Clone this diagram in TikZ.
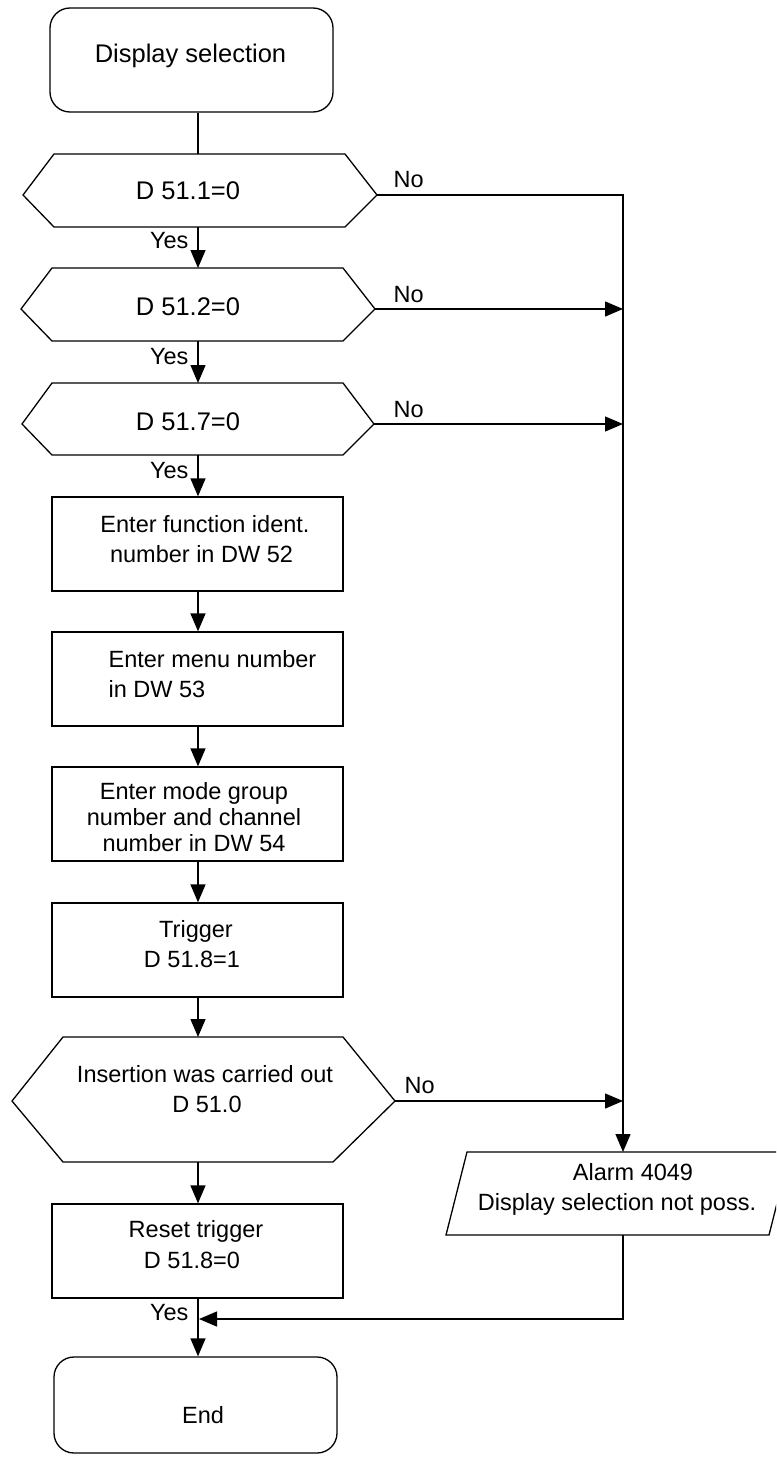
\documentclass[tikz,border=0pt]{standalone}
\usepackage{fontspec}
\setmainfont{Liberation Sans}
\usetikzlibrary{arrows.meta}
\begin{document}
\begin{tikzpicture}[x=1pt,y=-1pt, line width=1.3pt,
  lbl/.style={font=\fontsize{23.5}{30}\selectfont, inner sep=0pt, anchor=base},
  big/.style={font=\fontsize{25.5}{30}\selectfont, inner sep=0pt, anchor=base},
  procbox/.style={draw, inner sep=0pt, minimum width=291pt, minimum height=94pt},
  termbox/.style={draw, inner sep=0pt, rounded corners=20pt},
  arr/.style={-{Triangle[length=18pt,width=15pt]}}]
\useasboundingbox (0,0) rectangle (776,1458);
\clip (0,0) rectangle (776,1458);
\coordinate (ax) at (198,0);

% start
\node[termbox, minimum width=283pt, minimum height=104pt] (start) at (191.5,60) {};
\node[big] (startt) at (190.5,63) {Display selection};

% decision 1
\draw (23,195) -- (54,154) -- (345,154) -- (377,195) -- (345,227) -- (54,227) -- cycle;
\coordinate (d1n) at (198,154); \coordinate (d1s) at (198,227); \coordinate (d1e) at (377,195);
\node[big] (d1t) at (188,200) {D 51.1=0};

% decision 2
\draw (21,309) -- (52,268) -- (343,268) -- (375,309) -- (343,341) -- (52,341) -- cycle;
\coordinate (d2n) at (198,268); \coordinate (d2s) at (198,341); \coordinate (d2e) at (375,309);
\node[big] (d2t) at (188,315) {D 51.2=0};

% decision 3
\draw (22,424) -- (52,383) -- (343,383) -- (374,424) -- (343,455) -- (52,455) -- cycle;
\coordinate (d3n) at (198,383); \coordinate (d3s) at (198,455); \coordinate (d3e) at (374,424);
\node[big] (d3t) at (188,430) {D 51.7=0};

% box 1
\node[procbox] (b1) at (197.5,544) {};
\node[lbl] (b1a) at (205,532) {Enter function ident.};
\node[lbl] (b1b) at (201.5,562) {number in DW 52};

% box 2
\node[procbox] (b2) at (197.5,679) {};
\node[lbl, anchor=base west] (b2a) at (108,667) {Enter menu number};
\node[lbl, anchor=base west] (b2b) at (108,697) {in DW 53};

% box 3
\node[procbox] (b3) at (197.5,814) {};
\node[lbl] (b3a) at (194,799) {Enter mode group};
\node[lbl] (b3b) at (194,825) {number and channel};
\node[lbl] (b3c) at (194,851) {number in DW 54};

% box 4
\node[procbox] (b4) at (197.5,950) {};
\node[lbl] (b4a) at (196,937) {Trigger};
\node[lbl] (b4b) at (192,967) {D 51.8=1};

% decision 4
\draw (12,1101) -- (63,1037) -- (343,1037) -- (395,1101) -- (333,1162) -- (63,1162) -- cycle;
\coordinate (d4n) at (198,1037); \coordinate (d4s) at (198,1162); \coordinate (d4e) at (395,1101);
\node[lbl] (d4a) at (205,1082) {Insertion was carried out};
\node[lbl] (d4b) at (207,1112) {D 51.0};

% box 5
\node[procbox] (b5) at (197.5,1251) {};
\node[lbl] (b5a) at (196,1237) {Reset trigger};
\node[lbl] (b5b) at (192,1268) {D 51.8=0};

% end
\node[termbox, minimum width=283pt, minimum height=96pt] (end) at (195.5,1405) {};
\node[lbl] (endt) at (203,1423) {End};

% alarm
\draw (467,1152) -- (790,1152) -- (769,1235) -- (446,1235) -- cycle;
\coordinate (aln) at (623,1152); \coordinate (als) at (623,1235);
\node[lbl] (ala) at (633,1180) {Alarm 4049};
\node[lbl] (alb) at (617,1210) {Display selection not poss.};

% main flow
\draw (start.south -| ax) -- (d1n);
\draw[arr] (d1s) -- (d2n);
\draw[arr] (d2s) -- (d3n);
\draw[arr] (d3s) -- (b1.north -| ax);
\draw[arr] (b1.south -| ax) -- (b2.north -| ax);
\draw[arr] (b2.south -| ax) -- (b3.north -| ax);
\draw[arr] (b3.south -| ax) -- (b4.north -| ax);
\draw[arr] (b4.south -| ax) -- (d4n);
\draw[arr] (d4s) -- (b5.north -| ax);
\draw[arr] (b5.south -| ax) -- (end.north -| ax);

% yes labels
\node[lbl, anchor=base east] (y1) at (189,248) {Yes};
\node[lbl, anchor=base east] (y2) at (189,364) {Yes};
\node[lbl, anchor=base east] (y3) at (189,478) {Yes};
\node[lbl, anchor=base east] (y4) at (189,1320) {Yes};

% no branches
\coordinate (r1) at (623,195);
\draw[arr] (d1e) -- (r1) -- (aln);
\draw[arr] (d2e) -- (d2e -| r1);
\draw[arr] (d3e) -- (d3e -| r1);
\draw[arr] (d4e) -- (d4e -| r1);
\node[lbl, anchor=base west] (n1) at (393,188) {No};
\node[lbl, anchor=base west] (n2) at (393,302) {No};
\node[lbl, anchor=base west] (n3) at (393,417) {No};
\node[lbl, anchor=base west] (n4) at (404,1093) {No};

% return
\coordinate (ret) at (199,1319);
\draw[arr] (als) -- (als |- ret) -- (ret);
\end{tikzpicture}
\end{document}
